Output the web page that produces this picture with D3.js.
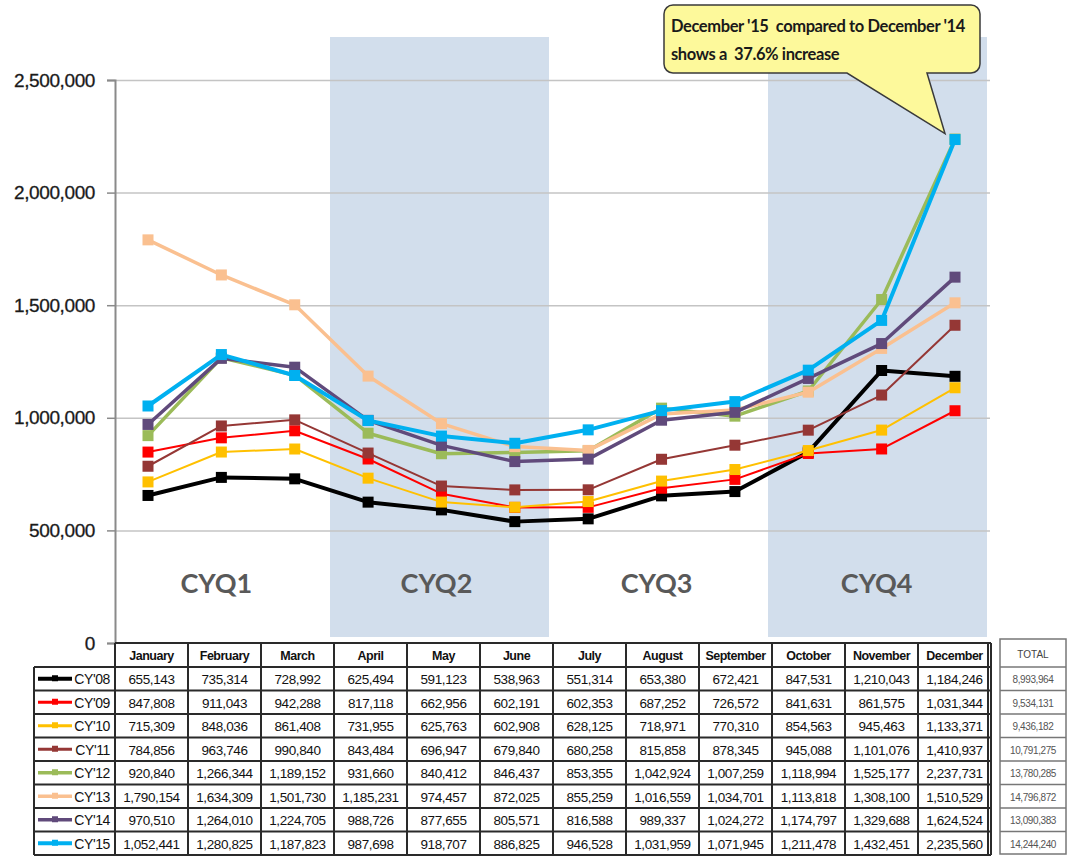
<!DOCTYPE html>
<html>
<head>
<meta charset="utf-8">
<script src="https://cdn.jsdelivr.net/npm/d3@7"></script>
<style>
  html, body { margin: 0; padding: 0; background: #fff; }
  svg { display: block; }
  text { white-space: pre; }
</style>
</head>
<body>
<svg id="chart" width="1069" height="856"></svg>
<script>
// ---------------- DATA ----------------
const months = ["January","February","March","April","May","June","July","August","September","October","November","December"];
const seriesNames = ["CY'08","CY'09","CY'10","CY'11","CY'12","CY'13","CY'14","CY'15"];
const cy08 = [655143,735314,728992,625494,591123,538963,551314,653380,672421,847531,1210043,1184246];
const cy09 = [847808,911043,942288,817118,662956,602191,602353,687252,726572,841631,861575,1031344];
const cy10 = [715309,848036,861408,731955,625763,602908,628125,718971,770310,854563,945463,1133371];
const cy11 = [784856,963746,990840,843484,696947,679840,680258,815858,878345,945088,1101076,1410937];
const cy12 = [920840,1266344,1189152,931660,840412,846437,853355,1042924,1007259,1118994,1525177,2237731];
const cy13 = [1790154,1634309,1501730,1185231,974457,872025,855259,1016559,1034701,1113818,1308100,1510529];
const cy14 = [970510,1264010,1224705,988726,877655,805571,816588,989337,1024272,1174797,1329688,1624524];
const cy15 = [1052441,1280825,1187823,987698,918707,886825,946528,1031959,1071945,1211478,1432451,2235560];
const totals = [8993964,9534131,9436182,10791275,13780285,14796872,13090383,14244240];
const yTicks = [0,500000,1000000,1500000,2000000,2500000];
const quarters = ["CYQ1","CYQ2","CYQ3","CYQ4"];
const quarterMonths = [["January","March"],["April","June"],["July","September"],["October","December"]];
const shadedQuarters = ["CYQ2","CYQ4"];
const calloutLines = ["December '15  compared to December '14","shows a  37.6% increase"];

// ---------------- STYLE ----------------
const colors = ["#000000","#ff0000","#ffc000","#953735","#9bbb59","#fac090","#604a7b","#00b0f0"];
const widths = [4, 2, 2, 2, 3.5, 3.5, 3.5, 4];
const allSeries = [cy08,cy09,cy10,cy11,cy12,cy13,cy14,cy15];

const svg = d3.select("#chart");
const fmt = d3.format(",");

const axisX = 115, gridRight = 990;
const yTop = 80, yZero = 643;

const y = d3.scaleLinear().domain([0,2500000]).range([yZero, yTop]);
const x = d3.scalePoint().domain(months).range([148, 955]);
const col = d3.scaleBand().domain(months).range([115, 991]);

// shading
const shade = svg.append("g");
quarters.forEach((q,i) => {
  if (!shadedQuarters.includes(q)) return;
  const [a,b] = quarterMonths[i];
  const x0 = col(a) - 4, x1 = col(b) + col.bandwidth() - 4;
  shade.append("rect").attr("x", x0).attr("y", 37).attr("width", x1 - x0).attr("height", yZero - 6 - 37)
    .attr("fill", "#d2deec");
});

// gridlines
svg.append("g").attr("transform", `translate(${axisX},0)`)
  .call(d3.axisLeft(y).tickValues(yTicks.filter(v => v > 0)).tickSize(-(gridRight - axisX)).tickFormat(""))
  .call(g => g.select(".domain").remove())
  .call(g => g.selectAll("line").attr("stroke", "#c4c4c4").attr("stroke-width", 1.5));

// y axis
svg.append("g").attr("transform", `translate(${axisX},0)`)
  .call(d3.axisLeft(y).tickValues(yTicks).tickSize(8).tickPadding(12).tickFormat(fmt))
  .call(g => g.select(".domain").attr("stroke", "#8a8a8a").attr("stroke-width", 2))
  .call(g => g.selectAll(".tick line").attr("stroke", "#8a8a8a").attr("stroke-width", 1.5))
  .call(g => g.selectAll("text").attr("font-family", "Liberation Sans, Arial, sans-serif")
     .attr("font-size", 19).attr("fill", "#1a1a1a").attr("letter-spacing", -0.4)
     .attr("stroke", "#1a1a1a").attr("stroke-width", 0.3));

// quarter labels
quarters.forEach((q,i) => {
  const [a,b] = quarterMonths[i];
  svg.append("text").attr("x", (x(a) + x(b)) / 2 - 5).attr("y", 593)
    .attr("text-anchor", "middle").attr("font-family", "Lato, sans-serif").attr("font-weight", "bold")
    .attr("font-size", 27).attr("fill", "#595959").text(q);
});

// lines + markers
const line = d3.line().x((d,i) => x(months[i])).y(d => y(d));
allSeries.forEach((s, k) => {
  const g = svg.append("g");
  g.append("path").datum(s).attr("d", line).attr("fill", "none")
    .attr("stroke", colors[k]).attr("stroke-width", widths[k]).attr("stroke-linejoin", "round");
  const ms = 11;
  g.selectAll("rect").data(s).join("rect")
    .attr("x", (d,i) => x(months[i]) - ms/2).attr("y", d => y(d) - ms/2)
    .attr("width", ms).attr("height", ms).attr("fill", colors[k]);
});

// callout
const tipX = x("December") - 10, tipY = y(cy15[11]) - 6;
const bx0 = 664, bx1 = 980, by0 = 5, by1 = 73, r = 9;
const callPath = d3.path();
callPath.moveTo(bx0 + r, by0);
callPath.lineTo(bx1 - r, by0); callPath.arcTo(bx1, by0, bx1, by0 + r, r);
callPath.lineTo(bx1, by1 - r); callPath.arcTo(bx1, by1, bx1 - r, by1, r);
callPath.lineTo(927, by1); callPath.lineTo(tipX, tipY); callPath.lineTo(847, by1);
callPath.lineTo(bx0 + r, by1); callPath.arcTo(bx0, by1, bx0, by1 - r, r);
callPath.lineTo(bx0, by0 + r); callPath.arcTo(bx0, by0, bx0 + r, by0, r);
callPath.closePath();
svg.append("path").attr("d", callPath.toString()).attr("fill", "#fdf99b")
  .attr("stroke", "#3a3a3a").attr("stroke-width", 1.5);
calloutLines.forEach((t, i) => {
  svg.append("text").attr("x", 671).attr("y", 32 + i * 28)
    .attr("font-family", "Lato, sans-serif").attr("font-weight", "bold").attr("font-size", 16.5)
    .attr("fill", "#1a1a1a").attr("letter-spacing", -0.4).text(t);
});

// ---------------- TABLE ----------------
const tHead0 = 643, tHead1 = 667, rowH = 23.5;
const legLeft = 34;
const tableRight = 991;
const tbl = svg.append("g");
const stroke = "#2a2a2a";
// white background
tbl.append("rect").attr("x", axisX).attr("y", tHead0).attr("width", tableRight - axisX).attr("height", tHead1 - tHead0).attr("fill", "#fff");
tbl.append("rect").attr("x", legLeft).attr("y", tHead1).attr("width", tableRight - legLeft).attr("height", rowH * 8).attr("fill", "#fff");

// header text
months.forEach(m => {
  tbl.append("text").attr("x", col(m) + col.bandwidth()/2).attr("y", tHead0 + 17)
    .attr("text-anchor", "middle").attr("font-family", "Liberation Sans, Arial, sans-serif")
    .attr("font-weight", "bold").attr("font-size", 12.5).attr("letter-spacing", -0.5).attr("fill", "#111").text(m);
});
// rows
seriesNames.forEach((name, k) => {
  const ry = tHead1 + k * rowH;
  allSeries[k].forEach((v, i) => {
    tbl.append("text").attr("x", col(months[i]) + col.bandwidth()/2).attr("y", ry + 17)
      .attr("text-anchor", "middle").attr("font-family", "Liberation Sans, Arial, sans-serif")
      .attr("font-size", 13.5).attr("letter-spacing", -0.4).attr("fill", "#111").text(fmt(v));
  });
  // legend sample
  tbl.append("line").attr("x1", 38).attr("x2", 72).attr("y1", ry + rowH/2).attr("y2", ry + rowH/2)
    .attr("stroke", colors[k]).attr("stroke-width", Math.max(3, widths[k]));
  tbl.append("rect").attr("x", 52).attr("y", ry + rowH/2 - 3.5).attr("width", 6).attr("height", 6).attr("fill", colors[k]);
  tbl.append("text").attr("x", 110).attr("y", ry + 17).attr("text-anchor", "end")
    .attr("font-family", "Liberation Sans, Arial, sans-serif").attr("font-size", 14).attr("letter-spacing", -0.4)
    .attr("fill", "#111").text(name);
});
// grid lines
const hl = (x1, x2, yy) => tbl.append("line").attr("x1", x1).attr("x2", x2).attr("y1", yy).attr("y2", yy).attr("stroke", stroke).attr("stroke-width", 2);
const vl = (xx, y1, y2) => tbl.append("line").attr("x1", xx).attr("x2", xx).attr("y1", y1).attr("y2", y2).attr("stroke", stroke).attr("stroke-width", 2);
hl(axisX, tableRight, tHead0);
for (let k = 0; k <= 8; k++) hl(legLeft, tableRight, tHead1 + k * rowH);
vl(legLeft, tHead1, tHead1 + 8 * rowH);
months.forEach(m => vl(col(m), tHead0, tHead1 + 8 * rowH));
vl(tableRight, tHead0, tHead1 + 8 * rowH);
vl(tableRight - 3, tHead0, tHead1 + 8 * rowH);

// totals box
const tx0 = 1000, tx1 = 1066;
const tot = svg.append("g");
tot.append("rect").attr("x", tx0).attr("y", tHead0 - 4).attr("width", tx1 - tx0).attr("height", tHead1 + 8*rowH - tHead0 + 3)
  .attr("fill", "#fff").attr("stroke", "#777").attr("stroke-width", 1.5);
tot.append("text").attr("x", (tx0 + tx1)/2).attr("y", tHead0 + 15).attr("text-anchor", "middle")
  .attr("font-family", "Liberation Sans, Arial, sans-serif").attr("font-size", 10).attr("fill", "#444").text("TOTAL");
totals.forEach((v, k) => {
  const ry = tHead1 + k * rowH;
  tot.append("line").attr("x1", tx0).attr("x2", tx1).attr("y1", ry).attr("y2", ry).attr("stroke", "#777").attr("stroke-width", 1.5);
  tot.append("text").attr("x", (tx0 + tx1)/2).attr("y", ry + 16).attr("text-anchor", "middle")
    .attr("font-family", "Liberation Sans, Arial, sans-serif").attr("font-size", 10).attr("letter-spacing", -0.4)
    .attr("fill", "#555").text(fmt(v));
});
</script>
</body>
</html>
